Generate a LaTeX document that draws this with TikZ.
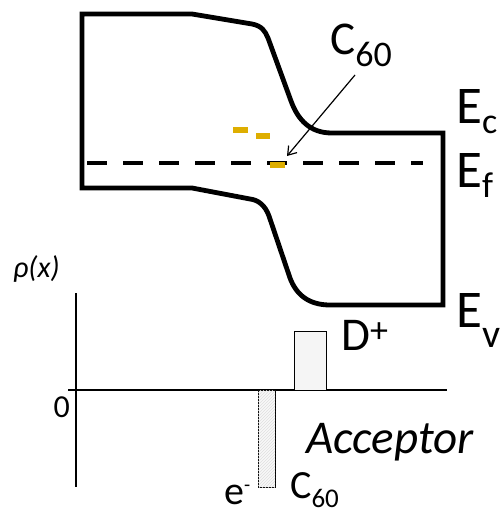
\documentclass[tikz,border=0pt]{standalone}
\usepackage{fontspec}
\setmainfont{Carlito}
\usetikzlibrary{arrows.meta,patterns}
\definecolor{gold}{RGB}{222,174,0}
\newcommand\fsz[1]{\fontsize{#1}{#1}\selectfont}
\begin{document}
\begin{tikzpicture}[x=1pt,y=-1pt,
  band/.style={line width=4.8pt, line join=miter},
  lab/.style={anchor=base west, inner sep=0pt},
  axis/.style={line width=1.3pt},
  bar/.style={draw, line width=1pt}]
\useasboundingbox (0,0) rectangle (499,516);
% band diagram
\draw[band] (82,188) -- (82,14) -- (192,14) -- (252,24)
  .. controls (262,26) and (265,31) .. (268,38) -- (291,101)
  .. controls (298,120) and (310,133) .. (332,133) -- (443,133) -- (443,305) -- (330,305)
  .. controls (308,305) and (296,294) .. (290,278) -- (269,216)
  .. controls (265,205) and (258,200) .. (250,199) -- (192,188) -- cycle;
\draw[line width=4pt, dash pattern=on 20pt off 16pt] (87,163) -- (423,163);
\fill[gold] (233,127) rectangle (248,133);
\fill[gold] (256,133) rectangle (270,139);
\fill[gold] (270,162) rectangle (285,168);
% labels
\node[lab, font=\fsz{47}] (c60t) at (330,55) {C\raisebox{-12pt}{\fsz{36}60}};
\coordinate (arrS) at (355,75);
\coordinate (arrE) at (287,156);
\draw[line width=1.2pt, -{Straight Barb[length=8pt,width=11pt]}] (arrS) -- (arrE);
\node[lab, font=\fsz{53}] (ec) at (456,123) {E\raisebox{-10pt}{\fsz{36}c}};
\node[lab, font=\fsz{53}] (ef) at (456,187) {E\raisebox{-10pt}{\fsz{36}f}};
\node[lab, font=\fsz{53}] (ev) at (456,327) {E\raisebox{-20pt}{\fsz{40}v}};
% charge density plot
\draw[axis] (76,293) -- (76,487);
\draw[axis] (68,390) -- (447,390);
\draw[bar, fill=gray!8] (294,331) rectangle (326,390);
\draw[bar, fill=gray!5, postaction={pattern=north east lines, pattern color=gray!25}] (258,390) rectangle (275,487);
\node[lab, font=\fsz{30}\itshape] (rho) at (13,277) {ρ(x)};
\node[anchor=base east, inner sep=0pt, font=\fsz{32}] (zero) at (70,417) {0};
\node[lab, font=\fsz{47}] (dp) at (341,350) {D\raisebox{8pt}{\fsz{36}+}};
\node[lab, font=\fsz{47}\itshape] (acc) at (306,453) {Acceptor};
\node[lab, font=\fsz{40}] (em) at (224,504) {e\raisebox{13pt}{\fsz{20}-}};
\node[lab, font=\fsz{40}] (c60b) at (290,498) {C\raisebox{-9pt}{\fsz{27}60}};
\end{tikzpicture}
\end{document}
